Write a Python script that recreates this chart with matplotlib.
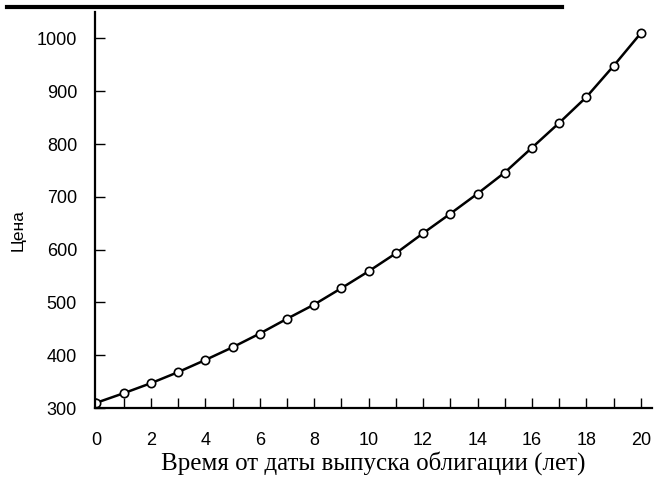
import matplotlib.pyplot as plt
from matplotlib.lines import Line2D

# Данные: цена облигации по годам
years = list(range(21))
price = [310, 328, 347, 368, 391, 415, 441, 469, 496, 527, 559,
         593, 631, 668, 706, 746, 793, 840, 889, 948, 1010]
x_major = list(range(0, 21, 2))
y_major = list(range(300, 1001, 100))

fig = plt.figure(figsize=(6.58, 4.78), dpi=100)
ax = fig.add_axes([0.1445, 0.1464, 0.846, 0.8285])

ax.plot(years, price, 'k-', lw=1.8, marker='o', markersize=6,
        markerfacecolor='white', markeredgecolor='black', markeredgewidth=1.2)

ax.set_xlim(-0.05, 20.4)
ax.set_ylim(300, 1050)
ax.set_xticks(x_major)
ax.set_xticks(years, minor=True)
ax.set_yticks(y_major)

for s in ['top', 'right']:
    ax.spines[s].set_visible(False)
ax.spines['left'].set_linewidth(1.6)
ax.spines['bottom'].set_linewidth(1.6)

ax.tick_params(axis='both', which='both', direction='in', length=7, width=1,
               labelsize=13)
ax.tick_params(axis='x', pad=17)
ax.tick_params(axis='y', pad=13)
for lbl in ax.get_xticklabels() + ax.get_yticklabels():
    lbl.set_family('Liberation Sans')

ax.set_xlabel('Время от даты выпуска облигации (лет)', family='Liberation Serif',
              fontsize=18, labelpad=2)
ax.set_ylabel('Цена', family='Liberation Sans', fontsize=12.5)
ax.yaxis.set_label_coords(-0.124, 0.45)

# Линия сверху
fig.add_artist(Line2D([0.011, 0.854], [0.985, 0.985], color='black', lw=3,
                      transform=fig.transFigure))

fig.savefig('out.png', dpi=100)
